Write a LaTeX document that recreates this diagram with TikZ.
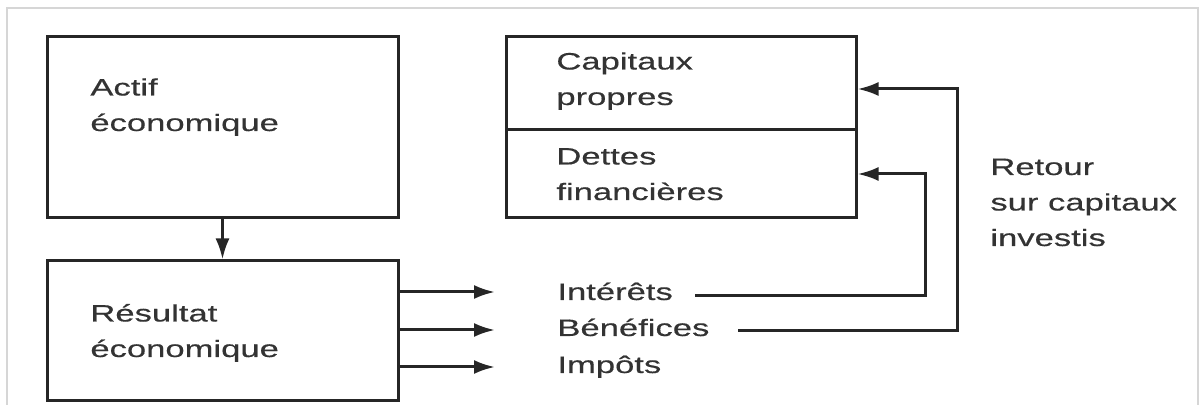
\documentclass[tikz,border=0pt]{standalone}
\usepackage{fontspec}
\setmainfont{Liberation Sans}[FakeStretch=1.46,FakeBold=0.4]
\usetikzlibrary{arrows.meta}
\definecolor{ink}{HTML}{262626}
\definecolor{txt}{HTML}{333333}
\definecolor{frame}{HTML}{D6D6D6}
\begin{document}
\begin{tikzpicture}[x=0.5pt,y=-0.5pt,
  box/.style={draw=ink, line width=1.5pt, rectangle, inner sep=0pt},
  lbl/.style={inner sep=0pt, anchor=base west, align=left, text=txt,
    font=\fontsize{11.85}{17.75}\selectfont},
  conn/.style={draw=ink, line width=1.5pt},
  arr/.style={conn, -{Latex[length=10.5pt,width=7pt]}}]
\useasboundingbox (0,0) rectangle (1200,405);
\draw[frame, line width=0.6pt] (7,410) -- (7,8) -- (1198,8) -- (1198,410);
% boxes
\node[box, minimum width=175.5pt, minimum height=90.5pt] (actif) at (222.5,127.5) {};
\node[box, minimum width=175.5pt, minimum height=70pt] (res) at (222.5,331) {};
\node[box, minimum width=175pt, minimum height=46.5pt] (cap) at (681,83.5) {};
\node[box, minimum width=175pt, minimum height=44pt] (det) at (681,174) {};
% texts (base anchor = baseline of the last line)
\node[lbl] (tactif) at (90,131) {Actif\\économique};
\node[lbl] (tres) at (90,357) {Résultat\\économique};
\node[lbl] (tcap) at (556,105) {Capitaux\\propres};
\node[lbl] (tdet) at (556,200) {Dettes\\financières};
\node[lbl] (tret) at (990,246) {Retour\\sur capitaux\\investis};
\node[lbl] (int) at (557,300) {Intérêts};
\node[lbl] (ben) at (557,336) {Bénéfices};
\node[lbl] (imp) at (557,373) {Impôts};
% connectors
\draw[arr] (actif.south) -- (res.north);
\coordinate (e1) at (495,292);
\coordinate (e2) at (495,330);
\coordinate (e3) at (495,367);
\draw[arr] (res.east |- e1) -- (e1);
\draw[arr] (res.east |- e2) -- (e2);
\draw[arr] (res.east |- e3) -- (e3);
\coordinate (s1) at (695,296);
\coordinate (s2) at (738,331);
\draw[arr] (s1) -- (925,296) -- (925,174) -- (det.east |- 0,174);
\draw[arr] (s2) -- (957,331) -- (957,89) -- (cap.east |- 0,89);
\end{tikzpicture}
\end{document}
